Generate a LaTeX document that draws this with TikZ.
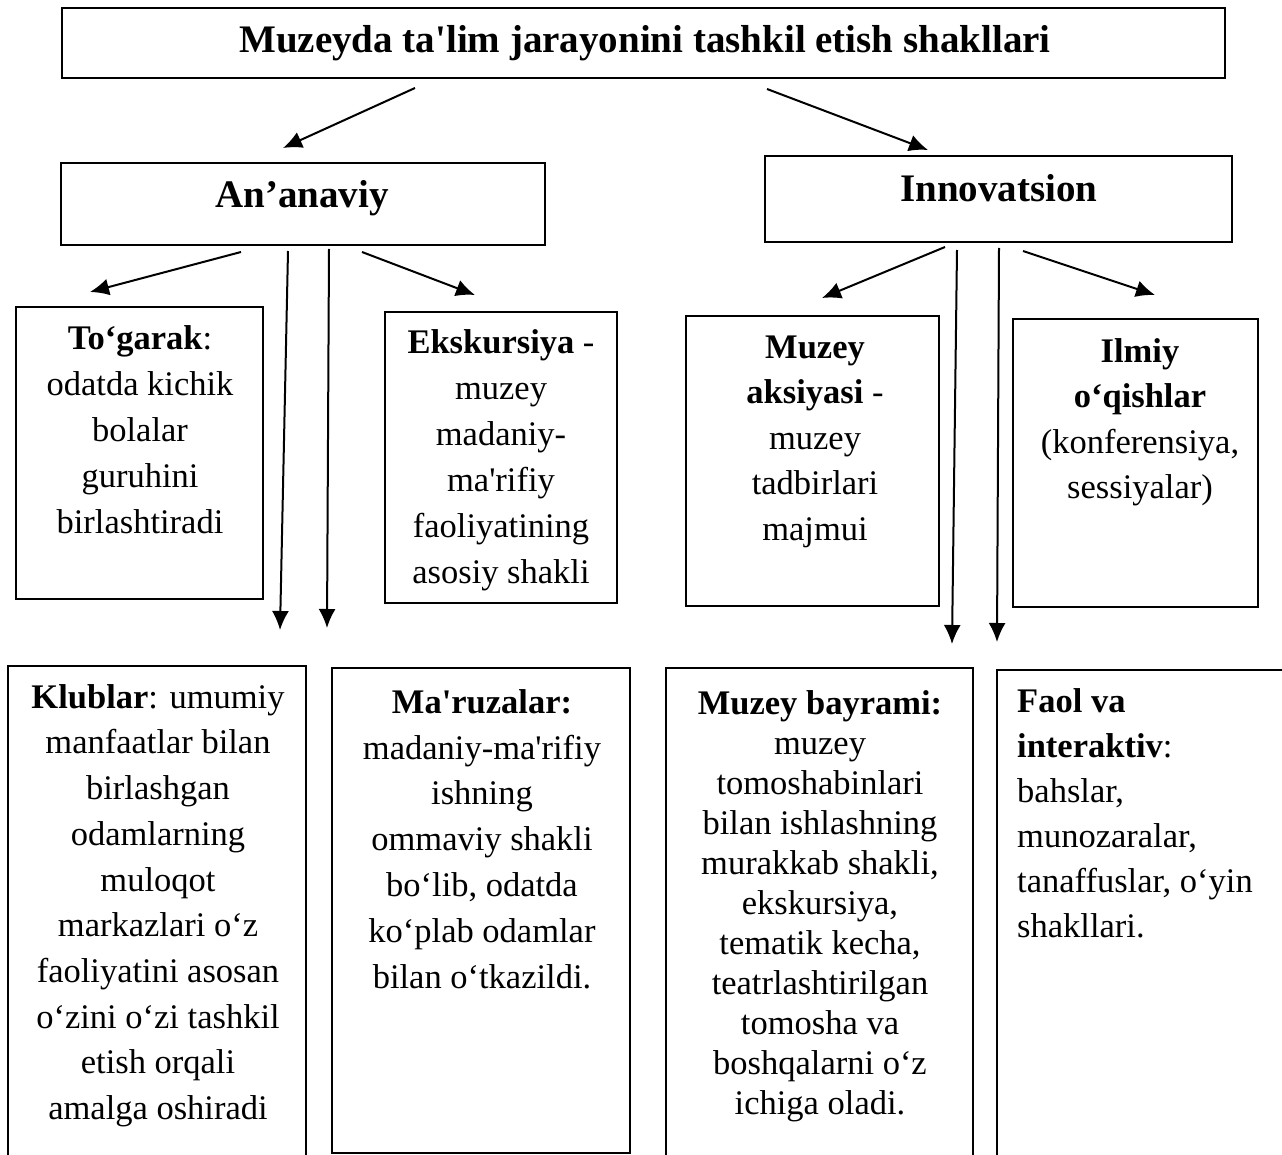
\documentclass[tikz,border=0pt]{standalone}
\usepackage{fontspec}
\setmainfont{Liberation Serif}
\usetikzlibrary{arrows.meta}
\newcommand{\aps}{\textquotesingle}
\begin{document}
\begin{tikzpicture}[x=1pt,y=-1pt,
  box/.style={draw, line width=2pt, inner sep=0pt},
  arr/.style={line width=2pt, -{Latex[length=19pt,width=17pt]}},
  txt/.style={anchor=north, inner sep=0pt, align=center, font=\fontsize{34.5}{#1}\selectfont},
  hdr/.style={anchor=base, inner sep=0pt, font=\fontsize{39}{44}\selectfont\bfseries}]
\useasboundingbox[fill=white] (0,0) rectangle (1282,1155);

% boxes
\node[box, minimum width=1163pt, minimum height=70pt] (title) at (643.5,43) {};
\node[box, minimum width=484pt, minimum height=82pt] (anan) at (303,204) {};
\node[box, minimum width=467pt, minimum height=86pt] (innov) at (998.5,199) {};
\node[box, minimum width=247pt, minimum height=292pt] (tog) at (139.5,453) {};
\node[box, minimum width=232pt, minimum height=291pt] (eks) at (501,457.5) {};
\node[box, minimum width=253pt, minimum height=290pt] (aks) at (812.5,461) {};
\node[box, minimum width=245pt, minimum height=288pt] (ilm) at (1135.5,463) {};
\node[box, minimum width=298pt, minimum height=509pt] (klub) at (157,920.5) {};
\node[box, minimum width=298pt, minimum height=485pt] (maru) at (481,910.5) {};
\node[box, minimum width=307pt, minimum height=507pt] (bayr) at (819.5,921.5) {};
\node[box, minimum width=303pt, minimum height=505pt] (faol) at (1148.5,922.5) {};

% headings
\node[hdr] (titletxt) at (645,53) {Muzeyda ta\aps lim jarayonini tashkil etish shakllari};
\node[hdr] (anantxt) at (302,208) {An’anaviy};
\node[hdr] (innovtxt) at (999,202) {Innovatsion};

% texts
\node[txt=46] (togtxt) at (140,316.8) {\strut\textbf{To‘garak}:\\odatda kichik\\bolalar\\guruhini\\birlashtiradi};
\node[txt=46] (ekstxt) at (501,320.8) {\strut\textbf{Ekskursiya} -\\muzey\\madaniy-\\ma\aps rifiy\\faoliyatining\\asosiy shakli};
\node[txt=45.5] (akstxt) at (815,326.2) {\strut\textbf{Muzey}\\\textbf{aksiyasi} -\\muzey\\tadbirlari\\majmui};
\node[txt=45.5] (ilmtxt) at (1140,330.2) {\strut\textbf{Ilmiy}\\\textbf{o‘qishlar}\\(konferensiya,\\sessiyalar)};
\node[txt=45.7] (klubtxt) at (158,676) {\strut\textbf{Klublar}: umumiy\\manfaatlar bilan\\birlashgan\\odamlarning\\muloqot\\markazlari o‘z\\faoliyatini asosan\\o‘zini o‘zi tashkil\\etish orqali\\amalga oshiradi};
\node[txt=45.8] (marutxt) at (482,681) {\strut\textbf{Ma\aps ruzalar:}\\madaniy-ma\aps rifiy\\ishning\\ommaviy shakli\\bo‘lib, odatda\\ko‘plab odamlar\\bilan o‘tkazildi.};
\node[txt=40] (bayrtxt) at (820,686) {\strut\textbf{Muzey bayrami:}\\muzey\\tomoshabinlari\\bilan ishlashning\\murakkab shakli,\\ekskursiya,\\tematik kecha,\\teatrlashtirilgan\\tomosha va\\boshqalarni o‘z\\ichiga oladi.};
\node[txt=45, anchor=north west, align=left] (faoltxt) at (1017,680.5) {\strut\textbf{Faol va}\\\textbf{interaktiv}:\\bahslar,\\munozaralar,\\tanaffuslar, o‘yin\\shakllari.};

% arrow end points
\coordinate (a1s) at (415,88);   \coordinate (a1e) at (283,148);
\coordinate (a2s) at (767,89);   \coordinate (a2e) at (928,150);
\coordinate (a3s) at (241,252);  \coordinate (a3e) at (90,292);
\coordinate (a4s) at (288,251);  \coordinate (a4e) at (280,630);
\coordinate (a5s) at (329,249);  \coordinate (a5e) at (327,628);
\coordinate (a6s) at (362,252);  \coordinate (a6e) at (475,295);
\coordinate (a7s) at (945,247);  \coordinate (a7e) at (822,298);
\coordinate (a8s) at (957,250);  \coordinate (a8e) at (952,644);
\coordinate (a9s) at (999,248);  \coordinate (a9e) at (997,642);
\coordinate (a10s) at (1023,251); \coordinate (a10e) at (1155,295);

\draw[arr] (a1s) -- (a1e);
\draw[arr] (a2s) -- (a2e);
\draw[arr] (a3s) -- (a3e);
\draw[arr] (a4s) -- (a4e);
\draw[arr] (a5s) -- (a5e);
\draw[arr] (a6s) -- (a6e);
\draw[arr] (a7s) -- (a7e);
\draw[arr] (a8s) -- (a8e);
\draw[arr] (a9s) -- (a9e);
\draw[arr] (a10s) -- (a10e);
\end{tikzpicture}
\end{document}
